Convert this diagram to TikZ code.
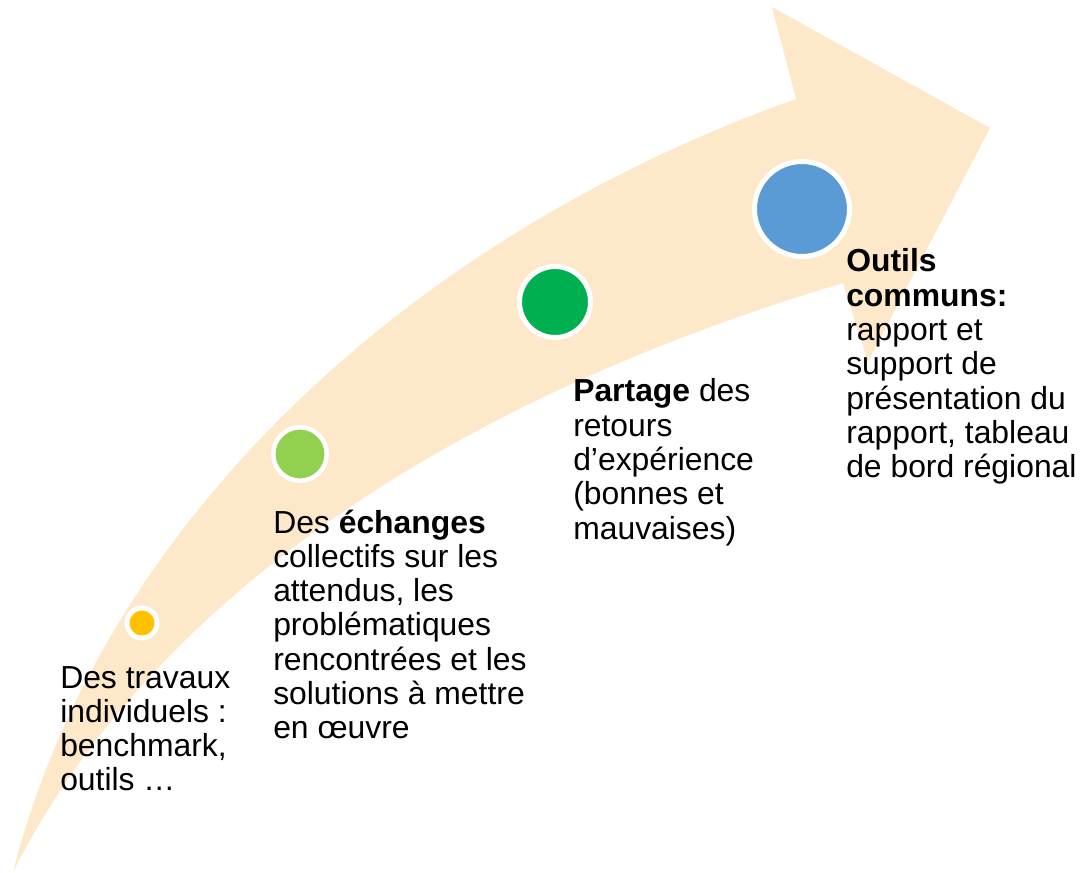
\documentclass[tikz,border=0pt]{standalone}
\usepackage{fontspec}
\setmainfont{Liberation Sans}
\definecolor{peach}{RGB}{253,232,202}
\definecolor{c1}{RGB}{255,192,0}
\definecolor{c2}{RGB}{146,208,80}
\definecolor{c3}{RGB}{0,176,80}
\definecolor{c4}{RGB}{91,155,213}
\tikzset{
  dot/.style={circle, draw=white, inner sep=0pt},
  label/.style={anchor=base west, inner sep=0pt, font=\fontsize{23.9}{25.7}\selectfont}
}
\begin{document}
\begin{tikzpicture}[x=0.75pt,y=-0.75pt]
\useasboundingbox (0,0) rectangle (1081,873);
\fill[peach] (13,872) .. controls (100,530) and (400,240) .. (796,99) -- (772,7) -- (990,128) -- (868,362) -- (843,283) .. controls (450,400) and (150,600) .. cycle;
\node[dot, fill=c1, minimum size=22.5pt, line width=3.75pt] (d1) at (142,623) {};
\node[dot, fill=c2, minimum size=40.1pt, line width=3.4pt] (d2) at (300,454) {};
\node[dot, fill=c3, minimum size=53.25pt, line width=3.75pt] (d3) at (555,302) {};
\node[dot, fill=c4, minimum size=71.25pt, line width=3.75pt] (d4) at (802,209) {};
\node[label] (t1) at (60,688) {\begin{tabular}[t]{@{}l@{}}Des travaux\\ individuels :\\ benchmark,\\ outils …\end{tabular}};
\node[label] (t2) at (273,533) {\begin{tabular}[t]{@{}l@{}}Des \textbf{échanges}\\ collectifs sur les\\ attendus, les\\ problématiques\\ rencontrées et les\\ solutions à mettre\\ en œuvre\end{tabular}};
\node[label] (t3) at (573,402) {\begin{tabular}[t]{@{}l@{}}\textbf{Partage} des\\ retours\\ d’expérience\\ (bonnes et\\ mauvaises)\end{tabular}};
\node[label] (t4) at (846,272) {\begin{tabular}[t]{@{}l@{}}\textbf{Outils}\\ \textbf{communs:}\\ rapport et\\ support de\\ présentation du\\ rapport, tableau\\ de bord régional\end{tabular}};
\end{tikzpicture}
\end{document}
